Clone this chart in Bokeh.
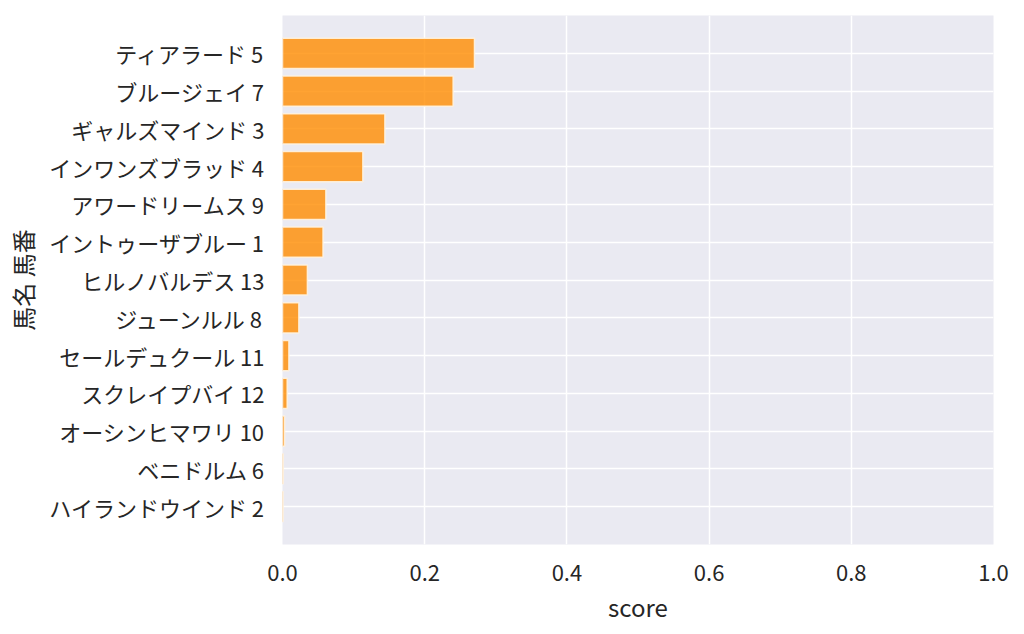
from bokeh.plotting import figure
from bokeh.models import FactorRange, FixedTicker, NumeralTickFormatter
from bokeh.embed import file_html
from bokeh.resources import INLINE

# Horses (name + number), top to bottom, and their scores
horses = [
    "ティアラード 5",
    "ブルージェイ 7",
    "ギャルズマインド 3",
    "インワンズブラッド 4",
    "アワードリームス 9",
    "イントゥーザブルー 1",
    "ヒルノバルデス 13",
    "ジューンルル 8",
    "セールデュクール 11",
    "スクレイプバイ 12",
    "オーシンヒマワリ 10",
    "ベニドルム 6",
    "ハイランドウインド 2",
]
scores = [0.270, 0.240, 0.144, 0.113, 0.061, 0.057, 0.035,
          0.023, 0.009, 0.0066, 0.003, 0.001, 0.0008]
x_ticks = [0.0, 0.2, 0.4, 0.6, 0.8, 1.0]

FONT = "Noto Sans CJK JP"
TEXT = "#262626"

p = figure(
    y_range=FactorRange(factors=horses[::-1], range_padding=0.5,
                        range_padding_units="absolute"),
    x_range=(0, 1),
    frame_width=711, frame_height=529,
    min_border_left=282, min_border_top=15, min_border_right=20,
    min_border_bottom=10,
    output_backend="svg", toolbar_location=None,
    background_fill_color="#eaeaf2", border_fill_color="white",
)
p.outline_line_color = None

p.hbar(y=horses, right=scores, left=0, height=0.8,
       fill_color="darkorange", fill_alpha=0.8,
       line_color="#fff3e0", line_alpha=0.9, line_width=1.5)

# grid like seaborn darkgrid
p.xgrid.ticker = FixedTicker(ticks=x_ticks)
p.grid.grid_line_color = "white"
p.grid.grid_line_width = 1.5
p.grid.level = "underlay"

p.xaxis.ticker = FixedTicker(ticks=x_ticks)
p.xaxis.formatter = NumeralTickFormatter(format="0.0")
p.xaxis.axis_label = "score"
p.yaxis.axis_label = "馬名 馬番"

for ax in (p.xaxis[0], p.yaxis[0]):
    ax.axis_line_color = None
    ax.major_tick_line_color = None
    ax.minor_tick_line_color = None
    ax.major_label_text_font = FONT
    ax.major_label_text_font_size = "22px"
    ax.major_label_text_color = TEXT
    ax.axis_label_text_font = FONT
    ax.axis_label_text_font_size = "24px"
    ax.axis_label_text_font_style = "normal"
    ax.axis_label_text_color = TEXT

p.xaxis.major_label_standoff = 14
p.xaxis.axis_label_standoff = 5
p.yaxis.major_label_standoff = 12
p.yaxis.axis_label_standoff = 6

open("out.html", "w").write(file_html(p, INLINE))
